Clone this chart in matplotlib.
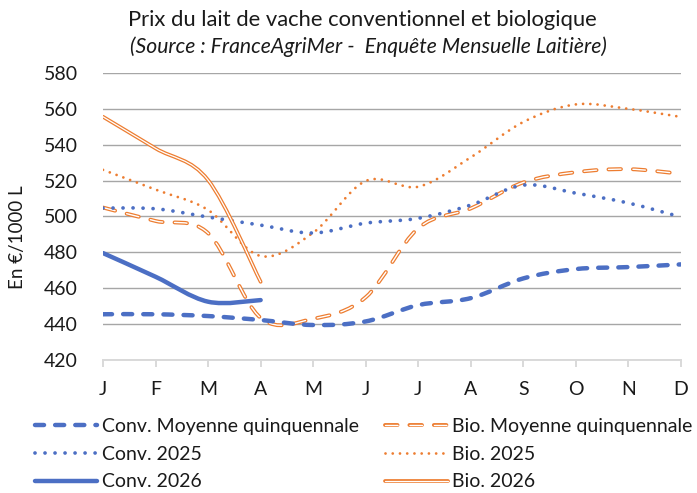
import numpy as np
import matplotlib
matplotlib.use("Agg")
import matplotlib.pyplot as plt
from matplotlib.path import Path
from matplotlib.patches import PathPatch
from matplotlib.lines import Line2D

plt.rcParams['font.family'] = ['Lato', 'DejaVu Sans']
plt.rcParams['lines.scale_dashes'] = False

months = ['J', 'F', 'M', 'A', 'M', 'J', 'J', 'A', 'S', 'O', 'N', 'D']

conv_moy = [445.5, 445.5, 444.5, 442.3, 439.5, 441.5, 450.6, 454.5, 465.5, 470.7, 471.8, 473.3]
conv_2025 = [504.7, 504.3, 499.7, 495.2, 490.8, 496.3, 499.0, 506.4, 517.5, 513.0, 507.5, 499.7]
conv_2026 = [479.6, 466.4, 452.5, 453.4]
bio_moy = [505.0, 497.5, 490.7, 443.5, 443.0, 455.0, 493.5, 504.5, 519.0, 524.7, 526.4, 523.8]
bio_2025 = [526.0, 515.0, 503.6, 478.0, 491.0, 519.8, 516.6, 533.0, 552.7, 562.5, 560.0, 555.5]
bio_2026 = [555.6, 538.0, 520.3, 463.6]

BLUE = '#4C6FC4'
ORANGE = '#ED7D31'


def smooth_path(ys):
    # Excel-style smoothed line: cubic bezier segments through the monthly points
    pts = np.column_stack([np.arange(len(ys)), ys]).astype(float)
    n = len(pts)
    verts = [pts[0]]
    codes = [Path.MOVETO]
    for i in range(n - 1):
        p0 = pts[i - 1] if i > 0 else pts[i]
        p1, p2 = pts[i], pts[i + 1]
        p3 = pts[i + 2] if i + 2 < n else pts[i + 1]
        verts += [p1 + (p2 - p0) / 6, p2 - (p3 - p1) / 6, p2]
        codes += [Path.CURVE4] * 3
    return Path(verts, codes)


def draw(ax, ys, **kw):
    ax.add_patch(PathPatch(smooth_path(ys), fill=False, joinstyle='round', **kw))


fig = plt.figure(figsize=(6.97, 4.93), dpi=100)
ax = fig.add_axes([103 / 697, 1 - 360 / 493, 578 / 697, 287 / 493])

# styles
s_conv_moy = dict(color=BLUE, lw=3.2, linestyle=(0, (6.5, 8.0)), capstyle='round')
s_conv_25 = dict(color=BLUE, lw=2.7, linestyle=(0, (0.01, 7.2)), capstyle='round')
s_conv_26 = dict(color=BLUE, lw=3.2, linestyle='-', capstyle='round')
s_bio_moy = dict(color=ORANGE, lw=2.8, linestyle=(0, (9.0, 8.6)), capstyle='round')
s_bio_moy_in = dict(color='white', lw=1.0, linestyle=(0, (9.0, 8.6)), capstyle='round')
s_bio_25 = dict(color=ORANGE, lw=2.0, linestyle=(0, (0.01, 5.2)), capstyle='round')
s_bio_26 = dict(color=ORANGE, lw=2.7, linestyle='-', capstyle='round')
s_bio_26_in = dict(color='white', lw=0.9, linestyle='-', capstyle='round')

draw(ax, bio_2025, **s_bio_25)
draw(ax, bio_moy, **s_bio_moy)
draw(ax, bio_moy, **s_bio_moy_in)
draw(ax, conv_2025, **s_conv_25)
draw(ax, conv_moy, **s_conv_moy)
draw(ax, conv_2026, **s_conv_26)
draw(ax, bio_2026, **s_bio_26)
draw(ax, bio_2026, **s_bio_26_in)

ax.set_xlim(0, 11)
ax.set_ylim(420, 580)
ax.set_yticks(np.arange(420, 581, 20))
ax.set_xticks(range(12))
ax.set_xticklabels(months)
ax.grid(axis='y', color='#A6A6A6', lw=1.0)
ax.set_axisbelow(True)
for side in ['top', 'right', 'left']:
    ax.spines[side].set_visible(False)
ax.spines['bottom'].set_color('#D9D9D9')
ax.spines['bottom'].set_linewidth(1.4)
ax.tick_params(axis='y', length=0, pad=18, labelsize=14, labelcolor='#1A1A1A')
ax.tick_params(axis='x', length=5, width=1.4, color='#D9D9D9', pad=10,
               labelsize=14, labelcolor='#1A1A1A')

fig.text(18 / 697, 1 - 237 / 493, 'En €/1000 L', rotation=90, ha='center', va='center',
         fontsize=13.5, color='#1A1A1A')
fig.text(362 / 697, 1 - 20 / 493, 'Prix du lait de vache conventionnel et biologique',
         ha='center', va='center', fontsize=15.8, color='#1A1A1A')
fig.text(368 / 697, 1 - 47 / 493, '(Source : FranceAgriMer -  Enquête Mensuelle Laitière)',
         ha='center', va='center', fontsize=15.2, style='italic', color='#1A1A1A')


def lh(st):
    st = dict(st)
    cap = st.pop('capstyle')
    return Line2D([], [], dash_capstyle=cap, solid_capstyle=cap, **st)


# column-wise order: conventional series left, organic right
handles = [lh(s_conv_moy), lh(s_conv_25), lh(s_conv_26),
           (lh(s_bio_moy), lh(s_bio_moy_in)), lh(s_bio_25), (lh(s_bio_26), lh(s_bio_26_in))]
labels = ['Conv. Moyenne quinquennale', 'Conv. 2025', 'Conv. 2026',
          'Bio. Moyenne quinquennale', 'Bio. 2025', 'Bio. 2026']
fig.legend(handles, labels, ncol=2, loc='upper left', bbox_to_anchor=(35 / 697, 1 - 418 / 493),
           frameon=False, fontsize=14, handlelength=3.2, handletextpad=0.25,
           columnspacing=1.35, labelspacing=0.55, borderpad=0, borderaxespad=0,
           labelcolor='#1A1A1A')

fig.savefig('out.png', dpi=100)
